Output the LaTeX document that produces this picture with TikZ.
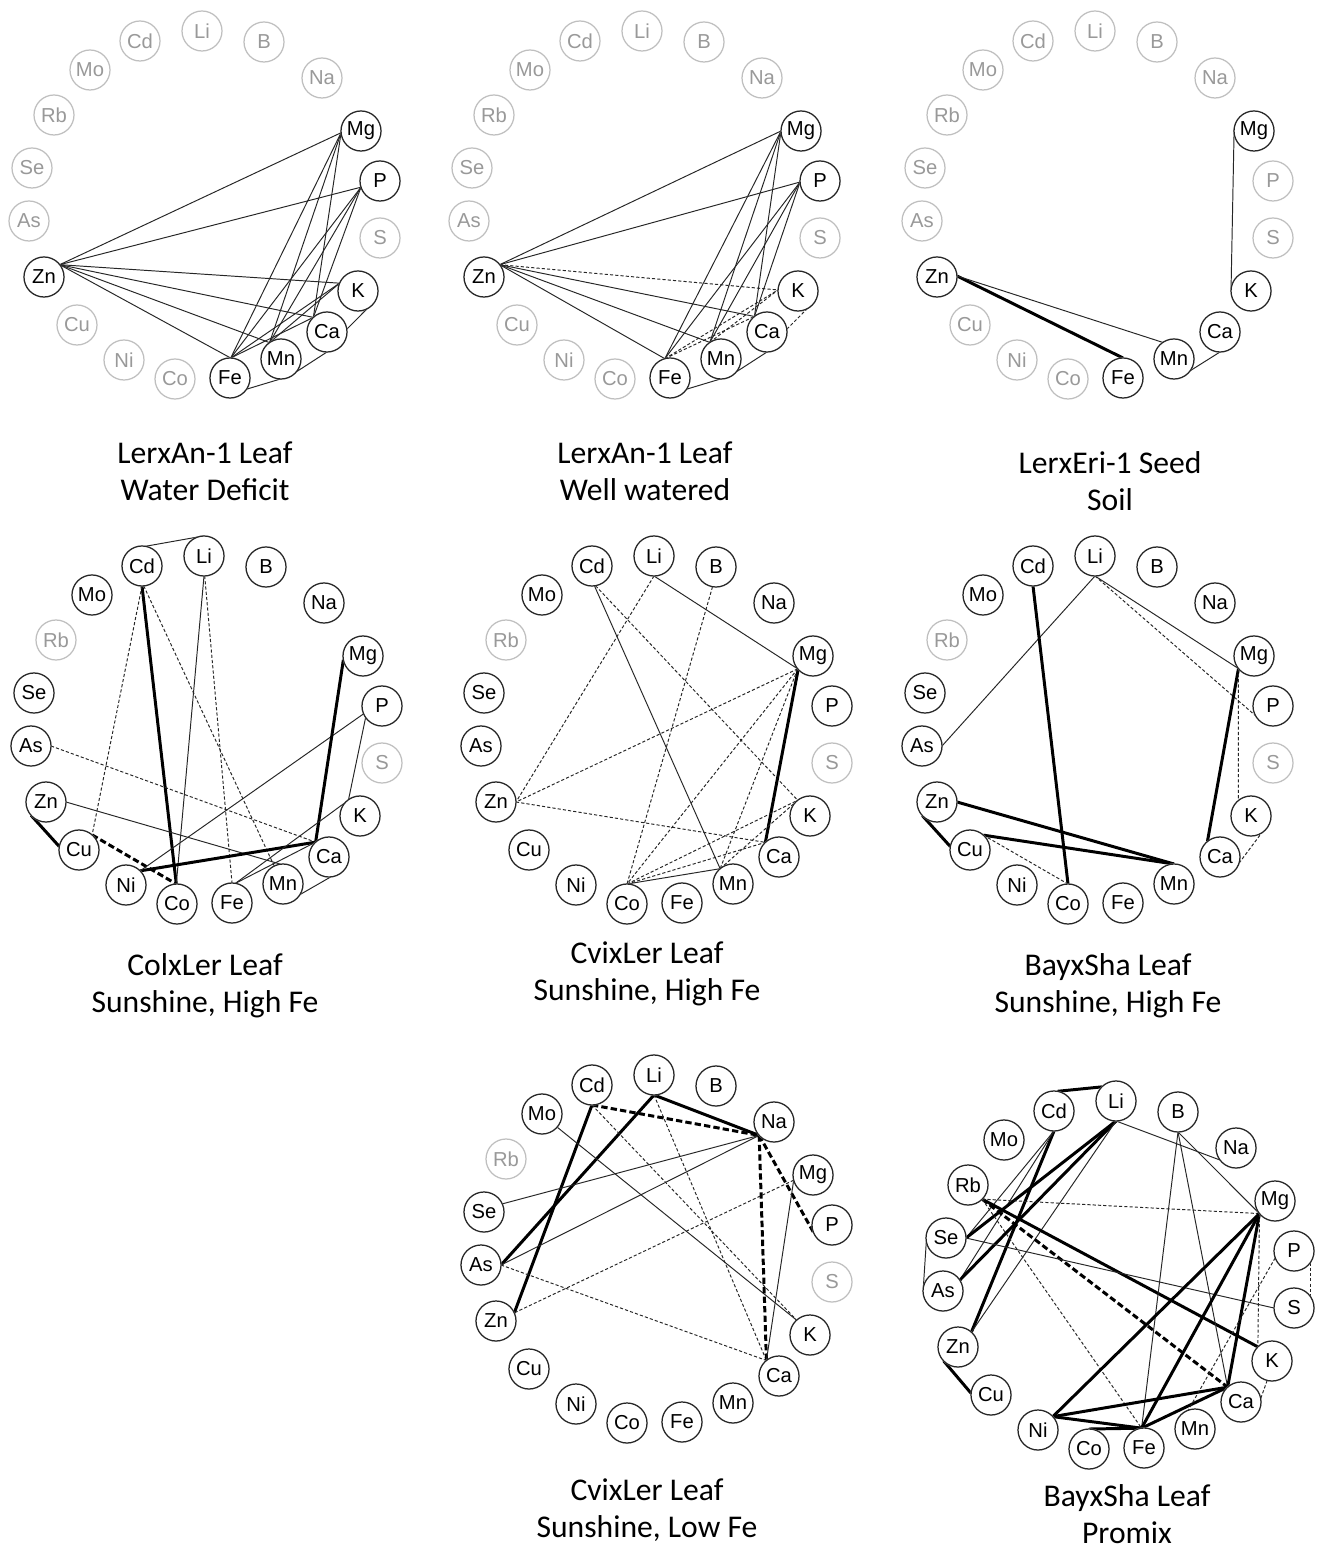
\documentclass[tikz,border=0pt]{standalone}
\usepackage{fontspec}
\newfontfamily\elfont{Liberation Sans}
\newfontfamily\capfont{Carlito}
\usetikzlibrary{backgrounds}

\newcommand{\ring}[3]{%
  \begin{scope}[shift={(#2)}]
    \foreach \el/\px/\py in {Cd/140/41,Li/202/31,B/264/42,Na/322/78,Mg/361/131,P/380/181,S/380/238,K/358/291,Ca/327/332,Mn/281/359,Fe/230/378,Co/175/379,Ni/124/360,Cu/77/325,Zn/44/277,As/29/221,Se/32/168,Rb/54/115,Mo/90/70}
      \node[dimel] (#1\el) at (\px,\py) {\el};
  \end{scope}
  \foreach \el in {#3}
    \node[elem] (#1\el) at (#1\el) {\el};
}

\begin{document}
\begin{tikzpicture}[x=0.02cm,y=-0.02cm,
    elem/.style={circle,draw=black!85,line width=0.7pt,fill=white,minimum size=0.8cm,inner sep=0pt,outer sep=0pt,font=\elfont\fontsize{11.5}{13}\selectfont},
    dimel/.style={elem,draw=black!25,text=black!40},
    ln/.style={line width=0.55pt,black!85},
    dln/.style={ln,dash pattern=on 1.8pt off 1.2pt},
    bln/.style={line width=1.7pt},
    bdln/.style={line width=1.7pt,dash pattern=on 3.6pt off 1.8pt},
    lbl/.style={align=center,font=\capfont\fontsize{18}{21}\selectfont}
  ]
  \useasboundingbox (0,0) rectangle (1316,1550);

  \ring{a}{0,0}{Mg,P,K,Ca,Mn,Fe,Zn}
  \ring{b}{440,0}{Mg,P,K,Ca,Mn,Fe,Zn}
  \ring{c}{893,0}{Mg,K,Ca,Mn,Fe,Zn}
  \ring{d}{2,525}{Cd,Li,B,Na,Mg,P,K,Ca,Mn,Fe,Co,Ni,Cu,Zn,As,Se,Mo}
  \ring{e}{452,525}{Cd,Li,B,Na,Mg,P,K,Ca,Mn,Fe,Co,Ni,Cu,Zn,As,Se,Mo}
  \ring{f}{893,525}{Cd,Li,B,Na,Mg,P,K,Ca,Mn,Fe,Co,Ni,Cu,Zn,As,Se,Mo}
  \ring{g}{452,1044}{Cd,Li,B,Na,Mg,P,K,Ca,Mn,Fe,Co,Ni,Cu,Zn,As,Se,Mo}
  \ring{h}{914,1070}{Cd,Li,B,Na,Mg,P,S,K,Ca,Mn,Fe,Co,Ni,Cu,Zn,As,Se,Rb,Mo}

  \node[lbl] (capa) at (205,471) {LerxAn-1 Leaf\\Water Deficit};
  \node[lbl] (capb) at (645,471) {LerxAn-1 Leaf\\Well watered};
  \node[lbl] (capc) at (1110,481) {LerxEri-1 Seed\\Soil};
  \node[lbl] (capd) at (205,986) {ColxLer Leaf\\Sunshine, High Fe};
  \node[lbl] (cape) at (647,974) {CvixLer Leaf\\Sunshine, High Fe};
  \node[lbl] (capf) at (1108,986) {BayxSha Leaf\\Sunshine, High Fe};
  \node[lbl] (capg) at (647,1510) {CvixLer Leaf\\Sunshine, Low Fe};
  \node[lbl] (caph) at (1127,1514) {BayxSha Leaf\\Promix};

  \begin{scope}[on background layer]
    \fill[white] (0,0) rectangle (1316,1550);
    % LerxAn-1, water deficit
    \draw[ln] (aZn.38) -- (aMg.185);
    \draw[ln] (aZn.38) -- (aP.198);
    \draw[ln] (aZn.38) -- (aK.157);
    \draw[ln] (aZn.38) -- (aCa.133);
    \draw[ln] (aZn.38) -- (aMn.125);
    \draw[ln] (aZn.38) -- (aFe.88);
    \draw[ln] (aMg.185) -- (aFe.88);
    \draw[ln] (aMg.185) -- (aMn.125);
    \draw[ln] (aMg.185) -- (aCa.133);
    \draw[ln] (aP.198) -- (aFe.88);
    \draw[ln] (aP.198) -- (aMn.125);
    \draw[ln] (aP.198) -- (aCa.133);
    \draw[ln] (aFe.88) -- (aK.157);
    \draw[ln] (aFe.88) -- (aCa.133);
    \draw[ln] (aMn.125) -- (aK.157);
    \draw[ln] (aFe.-34) -- (aMn.-55);
    \draw[ln] (aMn.-40) -- (aCa.-90);
    \draw[ln] (aCa.8) -- (aK.-63);
    % LerxAn-1, well watered
    \draw[ln] (bZn.38) -- (bMg.180);
    \draw[ln] (bZn.38) -- (bP.183);
    \draw[dln] (bZn.38) -- (bK.177);
    \draw[ln] (bZn.38) -- (bCa.129);
    \draw[ln] (bZn.38) -- (bMn.124);
    \draw[ln] (bZn.38) -- (bFe.105);
    \draw[ln] (bMg.180) -- (bFe.105);
    \draw[ln] (bMg.180) -- (bMn.124);
    \draw[ln] (bMg.180) -- (bCa.129);
    \draw[ln] (bP.183) -- (bFe.105);
    \draw[ln] (bP.183) -- (bMn.124);
    \draw[ln] (bP.183) -- (bCa.129);
    \draw[dln] (bFe.105) -- (bK.177);
    \draw[dln] (bFe.105) -- (bCa.129);
    \draw[dln] (bMn.124) -- (bK.177);
    \draw[ln] (bFe.-34) -- (bMn.-55);
    \draw[ln] (bMn.-40) -- (bCa.-90);
    \draw[dln] (bCa.8) -- (bK.-63);
    % LerxEri-1 seed
    \draw[ln] (cMg.174) -- (cK.178);
    \draw[bln] (cZn.3) -- (cFe.90);
    \draw[ln] (cZn.3) -- (cMn.124);
    \draw[ln] (cMn.-36) -- (cCa.-90);
    % ColxLer
    \draw[ln] (dCd.120) -- (dLi.92);
    \draw[bln] (dCd.-90) -- (dCo.92);
    \draw[dln] (dCd.-90) -- (dCu.49);
    \draw[dln] (dCd.-85) -- (dMn.116);
    \draw[ln] (dLi.-90) -- (dCo.92);
    \draw[dln] (dLi.-88) -- (dFe.90);
    \draw[dln] (dAs.0) -- (dCa.132);
    \draw[ln] (dZn.0) -- (dMn.97);
    \draw[bln] (dZn.-138) -- (dCu.170);
    \draw[bdln] (dCu.49) -- (dCo.92);
    \draw[bln] (dNi.45) -- (dCa.132);
    \draw[ln] (dNi.45) -- (dP.203);
    \draw[bln] (dMg.191) -- (dCa.132);
    \draw[ln] (dP.215) -- (dK.125);
    \draw[ln] (dFe.80) -- (dK.115);
    \draw[ln] (dFe.80) -- (dCa.132);
    \draw[ln] (dMn.-32) -- (dCa.-85);
    % CvixLer, high Fe
    \draw[ln] (eLi.-90) -- (eMg.220);
    \draw[dln] (eLi.-90) -- (eZn.0);
    \draw[ln] (eCd.-83) -- (eMn.130);
    \draw[dln] (eCd.-80) -- (eK.128);
    \draw[dln] (eB.-100) -- (eCo.90);
    \draw[dln] (eMg.220) -- (eZn.0);
    \draw[bln] (eMg.222) -- (eCa.133);
    \draw[dln] (eMg.220) -- (eCo.90);
    \draw[dln] (eMg.220) -- (eMn.130);
    \draw[dln] (eZn.0) -- (eCa.133);
    \draw[ln] (eCo.90) -- (eMn.130);
    \draw[dln] (eCo.90) -- (eCa.133);
    \draw[dln] (eCo.90) -- (eK.128);
    \draw[dln] (eMn.130) -- (eK.128);
    % BayxSha, high Fe
    \draw[ln] (fLi.-90) -- (fAs.0);
    \draw[ln] (fLi.-90) -- (fMg.219);
    \draw[dln] (fLi.-90) -- (fP.209);
    \draw[bln] (fCd.-90) -- (fCo.90);
    \draw[bln] (fMg.219) -- (fCa.129);
    \draw[dln] (fMg.219) -- (fK.129);
    \draw[dln] (fCa.-18) -- (fK.-58);
    \draw[bln] (fZn.0) -- (fMn.90);
    \draw[bln] (fZn.-137) -- (fCu.170);
    \draw[bln] (fCu.48) -- (fMn.90);
    \draw[dln] (fCu.48) -- (fCo.90);
    % CvixLer, low Fe
    \draw[bln] (gLi.-90) -- (gNa.222);
    \draw[bln] (gLi.-90) -- (gAs.0);
    \draw[dln] (gLi.-90) -- (gCa.129);
    \draw[bdln] (gCd.-90) -- (gNa.222);
    \draw[bln] (gCd.-90) -- (gZn.24);
    \draw[dln] (gCd.-90) -- (gK.132);
    \draw[ln] (gMo.-41) -- (gK.132);
    \draw[ln] (gNa.222) -- (gSe.24);
    \draw[ln] (gNa.222) -- (gAs.0);
    \draw[bdln] (gNa.222) -- (gCa.129);
    \draw[bdln] (gNa.222) -- (gP.200);
    \draw[dln] (gMg.195) -- (gZn.24);
    \draw[ln] (gMg.195) -- (gCa.129);
    \draw[dln] (gAs.0) -- (gCa.129);
    % BayxSha, promix
    \draw[bln] (hCd.80) -- (hLi.135);
    \draw[bln] (hCd.-90) -- (hZn.48);
    \draw[ln] (hCd.-90) -- (hSe.0);
    \draw[ln] (hCd.-90) -- (hAs.33);
    \draw[bln] (hLi.-90) -- (hSe.0);
    \draw[bln] (hLi.-90) -- (hAs.33);
    \draw[ln] (hLi.-90) -- (hZn.48);
    \draw[ln] (hLi.-90) -- (hNa.217);
    \draw[ln] (hSe.190) -- (hAs.170);
    \draw[bln] (hRb.-45) -- (hK.135);
    \draw[bdln] (hRb.-45) -- (hCa.132);
    \draw[dln] (hRb.-45) -- (hMg.219);
    \draw[dln] (hRb.-45) -- (hFe.97);
    \draw[ln] (hSe.0) -- (hS.180);
    \draw[ln] (hB.-90) -- (hMg.219);
    \draw[ln] (hB.-90) -- (hFe.97);
    \draw[ln] (hB.-90) -- (hCa.132);
    \draw[bln] (hMg.219) -- (hNi.42);
    \draw[bln] (hMg.219) -- (hFe.97);
    \draw[bln] (hMg.219) -- (hCa.132);
    \draw[dln] (hMg.219) -- (hK.135);
    \draw[bln] (hNi.42) -- (hCa.132);
    \draw[bln] (hNi.42) -- (hFe.97);
    \draw[bln] (hFe.97) -- (hCa.132);
    \draw[bln] (hCo.90) -- (hFe.97);
    \draw[dln] (hP.-35) -- (hS.35);
    \draw[dln] (hK.-104) -- (hCa.10);
    \draw[bln] (hZn.-136) -- (hCu.175);
    \draw[dln] (hP.200) -- (hMn.110);
  \end{scope}
\end{tikzpicture}
\end{document}
